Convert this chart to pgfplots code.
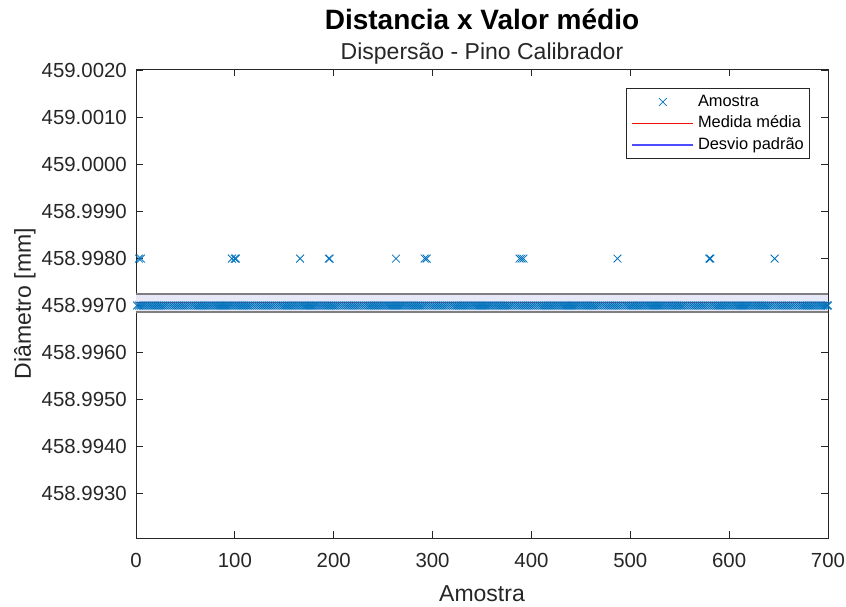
\documentclass[border=0pt]{standalone}
\usepackage{fontspec}
\setmainfont{Liberation Sans}
\usepackage{pgfplots}
\pgfplotsset{compat=1.18}
\definecolor{mblue}{HTML}{0072BD}
\definecolor{meanred}{rgb}{0.95,0.05,0.05}
\definecolor{axgray}{HTML}{262626}
\definecolor{bandgray}{HTML}{7F7F7F}
\definecolor{bandfill}{HTML}{E6E8F7}
\definecolor{legblue}{HTML}{4D4DFF}
\pgfplotsset{
  markleg/.style={legend image code/.code={\path (0pt,0pt) (61pt,0pt);
    \draw[##1, draw=mblue] plot coordinates {(30.5pt,0pt)};}},
  meanleg/.style={legend image code/.code={\draw[draw=meanred, line width=1.3pt] (0pt,0pt) -- (61pt,0pt);}},
  stdleg/.style={legend image code/.code={\draw[legblue, line width=1.2pt] (0pt,0pt) -- (61pt,0pt);}},
}

% y values are micrometres above 458.990 mm (458.997 mm -> 7)
\begin{document}
\begin{tikzpicture}
\begin{axis}[
  scale only axis, width=692pt, height=469.3pt,
  xmin=0, xmax=700, ymin=2.04, ymax=12.04,
  xtick={0,100,...,700}, ytick={3,4,...,12},
  yticklabels={458.9930,458.9940,458.9950,458.9960,458.9970,458.9980,458.9990,459.0000,459.0010,459.0020},
  tick align=inside, tick pos=both, major tick length=7pt,
  axis line style={axgray, line width=0.9pt},
  tick style={axgray, line width=0.9pt},
  /pgf/number format/assume math mode=true,
  ticklabel style={font=\fontsize{20.4}{24}\selectfont, text=axgray},
  xticklabel style={inner sep=0pt, yshift=-15pt},
  yticklabel style={inner sep=0pt, xshift=-9pt},
  clip=false,
  legend cell align=left,
  legend style={name=leg, at={(rel axis cs:0.9725,0.9595)}, anchor=north east,
    draw=none, fill=white,
    inner xsep=5pt, inner ysep=6pt, column sep=4pt, row sep=6pt,
    font=\fontsize{16.4}{19}\selectfont,
    nodes={inner sep=0pt, text height=12pt, text depth=3.5pt}},
]
% band between the standard deviation lines
\addplot[fill=bandfill, draw=none, forget plot]
  coordinates {(0,6.86) (700,6.86) (700,7.245) (0,7.245)} -- cycle;

% samples at 458.997
\addplot[only marks, mark=x, mark size=5.5pt, color=mblue, line width=0.8pt, markleg]
  coordinates {
  (1,7)(3,7)(5,7)(7,7)(9,7)(11,7)(13,7)(15,7)(17,7)(19,7)
  (21,7)(23,7)(25,7)(27,7)(29,7)(31,7)(33,7)(35,7)(37,7)(39,7)
  (41,7)(43,7)(45,7)(47,7)(49,7)(51,7)(53,7)(55,7)(57,7)(59,7)
  (61,7)(63,7)(65,7)(67,7)(69,7)(71,7)(73,7)(75,7)(77,7)(79,7)
  (81,7)(83,7)(85,7)(87,7)(89,7)(91,7)(93,7)(95,7)(97,7)(99,7)
  (101,7)(103,7)(105,7)(107,7)(109,7)(111,7)(113,7)(115,7)(117,7)(119,7)
  (121,7)(123,7)(125,7)(127,7)(129,7)(131,7)(133,7)(135,7)(137,7)(139,7)
  (141,7)(143,7)(145,7)(147,7)(149,7)(151,7)(153,7)(155,7)(157,7)(159,7)
  (161,7)(163,7)(165,7)(167,7)(169,7)(171,7)(173,7)(175,7)(177,7)(179,7)
  (181,7)(183,7)(185,7)(187,7)(189,7)(191,7)(193,7)(195,7)(197,7)(199,7)
  (201,7)(203,7)(205,7)(207,7)(209,7)(211,7)(213,7)(215,7)(217,7)(219,7)
  (221,7)(223,7)(225,7)(227,7)(229,7)(231,7)(233,7)(235,7)(237,7)(239,7)
  (241,7)(243,7)(245,7)(247,7)(249,7)(251,7)(253,7)(255,7)(257,7)(259,7)
  (261,7)(263,7)(265,7)(267,7)(269,7)(271,7)(273,7)(275,7)(277,7)(279,7)
  (281,7)(283,7)(285,7)(287,7)(289,7)(291,7)(293,7)(295,7)(297,7)(299,7)
  (301,7)(303,7)(305,7)(307,7)(309,7)(311,7)(313,7)(315,7)(317,7)(319,7)
  (321,7)(323,7)(325,7)(327,7)(329,7)(331,7)(333,7)(335,7)(337,7)(339,7)
  (341,7)(343,7)(345,7)(347,7)(349,7)(351,7)(353,7)(355,7)(357,7)(359,7)
  (361,7)(363,7)(365,7)(367,7)(369,7)(371,7)(373,7)(375,7)(377,7)(379,7)
  (381,7)(383,7)(385,7)(387,7)(389,7)(391,7)(393,7)(395,7)(397,7)(399,7)
  (401,7)(403,7)(405,7)(407,7)(409,7)(411,7)(413,7)(415,7)(417,7)(419,7)
  (421,7)(423,7)(425,7)(427,7)(429,7)(431,7)(433,7)(435,7)(437,7)(439,7)
  (441,7)(443,7)(445,7)(447,7)(449,7)(451,7)(453,7)(455,7)(457,7)(459,7)
  (461,7)(463,7)(465,7)(467,7)(469,7)(471,7)(473,7)(475,7)(477,7)(479,7)
  (481,7)(483,7)(485,7)(487,7)(489,7)(491,7)(493,7)(495,7)(497,7)(499,7)
  (501,7)(503,7)(505,7)(507,7)(509,7)(511,7)(513,7)(515,7)(517,7)(519,7)
  (521,7)(523,7)(525,7)(527,7)(529,7)(531,7)(533,7)(535,7)(537,7)(539,7)
  (541,7)(543,7)(545,7)(547,7)(549,7)(551,7)(553,7)(555,7)(557,7)(559,7)
  (561,7)(563,7)(565,7)(567,7)(569,7)(571,7)(573,7)(575,7)(577,7)(579,7)
  (581,7)(583,7)(585,7)(587,7)(589,7)(591,7)(593,7)(595,7)(597,7)(599,7)
  (601,7)(603,7)(605,7)(607,7)(609,7)(611,7)(613,7)(615,7)(617,7)(619,7)
  (621,7)(623,7)(625,7)(627,7)(629,7)(631,7)(633,7)(635,7)(637,7)(639,7)
  (641,7)(643,7)(645,7)(647,7)(649,7)(651,7)(653,7)(655,7)(657,7)(659,7)
  (661,7)(663,7)(665,7)(667,7)(669,7)(671,7)(673,7)(675,7)(677,7)(679,7)
  (681,7)(683,7)(685,7)(687,7)(689,7)(691,7)(693,7)(695,7)(697,7)(699,7)
  (700,7)
  };
\addlegendentry{Amostra}

% samples at 458.998
\addplot[only marks, mark=x, mark size=5.5pt, color=mblue, line width=0.8pt, forget plot]
  coordinates {
  (3,8)(5,8)(97,8)(100,8)(101,8)(166,8)(195,8)(196,8)(263,8)
  (292,8)(294,8)(388,8)(390,8)(392,8)(487,8)(580,8)(581,8)(646,8)
  };

% mean
\addplot[draw=meanred, line width=1.3pt, mark=none, meanleg]
  coordinates {(0,7.06) (700,7.06)};
\addlegendentry{Medida média}

% mean +/- standard deviation
\addplot[color=bandgray, line width=2.4pt, mark=none, stdleg]
  coordinates {(0,7.245) (700,7.245)};
\addlegendentry{Desvio padrão}
\addplot[color=bandgray, line width=2.4pt, mark=none, forget plot]
  coordinates {(0,6.86) (700,6.86)};

\node[anchor=base, yshift=39pt, font=\bfseries\fontsize{28}{32}\selectfont]
  at (rel axis cs:0.5,1) {Distancia x Valor médio};
\node[anchor=base, yshift=9pt, font=\fontsize{23}{27}\selectfont, text=axgray]
  at (rel axis cs:0.5,1) {Dispersão - Pino Calibrador};
\node[anchor=base, yshift=-63pt, font=\fontsize{23}{27}\selectfont, text=axgray]
  at (rel axis cs:0.5,0) {Amostra};
\node[anchor=base, rotate=90, font=\fontsize{23}{27}\selectfont, text=axgray]
  at ([xshift=-105pt]rel axis cs:0,0.5) {Diâmetro [mm]};
\end{axis}
\draw[axgray, line width=0.8pt] (leg.south west) rectangle (leg.north east);
\pgfresetboundingbox
\path ([shift={(-136pt,-68.3pt)}]current axis.south west)
  rectangle ([shift={(18pt,69pt)}]current axis.north east);
\end{tikzpicture}
\end{document}
